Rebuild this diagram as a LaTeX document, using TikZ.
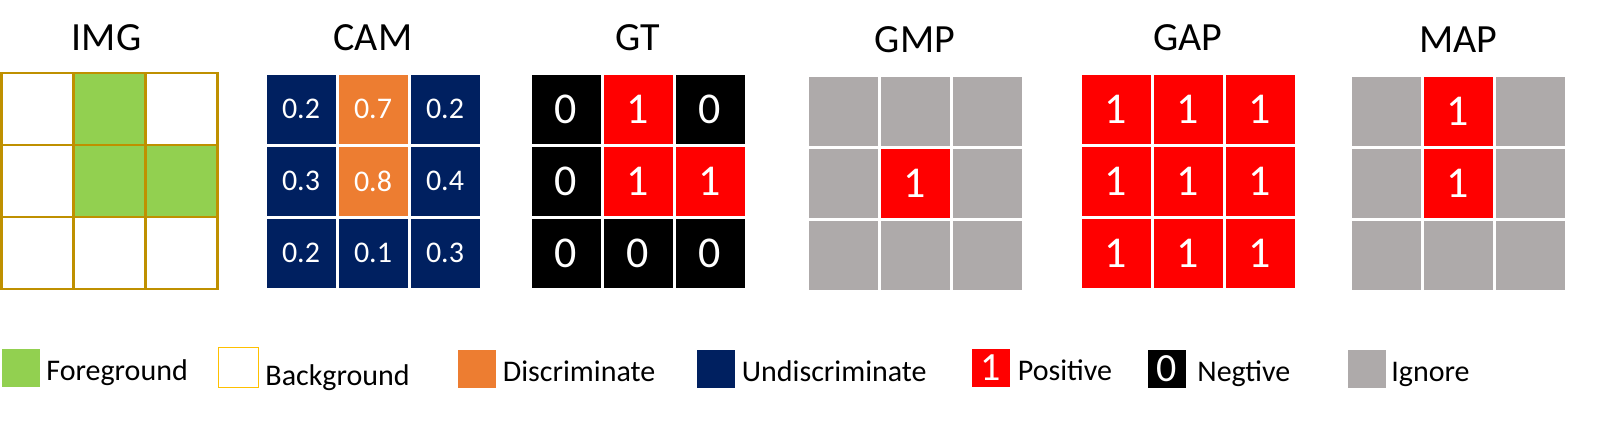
\documentclass[tikz,border=0pt]{standalone}
\usepackage{fontspec}
\setmainfont{Carlito}
\usetikzlibrary{positioning}
\definecolor{fgreen}{HTML}{92D050}
\definecolor{imgline}{HTML}{BF9000}
\definecolor{bgline}{HTML}{FFC000}
\definecolor{discor}{HTML}{ED7D31}
\definecolor{undisc}{HTML}{002060}
\definecolor{posred}{HTML}{FF0000}
\definecolor{igngray}{HTML}{AEAAAA}
\begin{document}
\begin{tikzpicture}
  [x=1pt,y=-1pt,
  every node/.style={font=\fontsize{30}{36}\selectfont},
  title/.style={font=\fontsize{40}{46}\selectfont,anchor=base},
  cell/.style={minimum size=72pt,inner sep=0pt,draw=white,line width=3pt,text=white,font=\fontsize{44}{50}\selectfont},
  camcell/.style={cell,font=\fontsize{30}{36}\selectfont},
  imgcell/.style={minimum size=72pt,inner sep=0pt,draw=imgline,line width=2.5pt},
  key/.style={minimum size=38pt,inner sep=0pt,text=white,font=\fontsize{40}{46}\selectfont},
  keytext/.style={inner sep=0pt,anchor=base west}]
  \useasboundingbox[fill=white] (0,0) rectangle (1611,423);

  % IMG
  \foreach \r/\c/\f in {1/1/white,1/2/fgreen,1/3/white,2/1/white,2/2/fgreen,2/3/fgreen,3/1/white,3/2/white,3/3/white}
    \node[imgcell,fill=\f] (img-\r-\c) at ({1.5+36+72*(\c-1)},{73+36+72*(\r-1)}) {};
  \node[title] (imgT) at ([yshift=21pt,xshift=-3pt]img-1-2.north) {IMG};

  % CAM
  \foreach \r/\c/\v/\f in {1/1/0.2/undisc,1/2/0.7/discor,1/3/0.2/undisc,2/1/0.3/undisc,2/2/0.8/discor,2/3/0.4/undisc,3/1/0.2/undisc,3/2/0.1/undisc,3/3/0.3/undisc}
    \node[camcell,fill=\f] (cam-\r-\c) at ({265+36+72*(\c-1)},{73+36+72*(\r-1)}) {\v};
  \node[title] (camT) at ([yshift=21pt]cam-1-2.north) {CAM};

  % GT
  \foreach \r/\c/\v/\f in {1/1/0/black,1/2/1/posred,1/3/0/black,2/1/0/black,2/2/1/posred,2/3/1/posred,3/1/0/black,3/2/0/black,3/3/0/black}
    \node[cell,fill=\f] (gt-\r-\c) at ({530+36+72*(\c-1)},{73+36+72*(\r-1)}) {\v};
  \node[title] (gtT) at ([yshift=21pt]gt-1-2.north) {GT};

  % GMP
  \foreach \r/\c in {1/1,1/2,1/3,2/1,2/3,3/1,3/2,3/3}
    \node[cell,fill=igngray] (gmp-\r-\c) at ({807+36+72*(\c-1)},{75+36+72*(\r-1)}) {};
  \node[cell,fill=posred] (gmp-2-2) at (807+36+72,75+36+72) {1};
  \node[title] (gmpT) at ([yshift=21pt]gmp-1-2.north) {GMP};

  % GAP
  \foreach \r in {1,2,3}
    \foreach \c in {1,2,3}
      \node[cell,fill=posred] (gap-\r-\c) at ({1080+36+72*(\c-1)},{73+36+72*(\r-1)}) {1};
  \node[title] (gapT) at ([yshift=21pt]gap-1-2.north) {GAP};

  % MAP
  \foreach \r/\c/\v/\f in {1/1//igngray,1/2/1/posred,1/3//igngray,2/1//igngray,2/2/1/posred,2/3//igngray,3/1//igngray,3/2//igngray,3/3//igngray}
    \node[cell,fill=\f] (map-\r-\c) at ({1350+36+72*(\c-1)},{75+36+72*(\r-1)}) {\v};
  \node[title] (mapT) at ([yshift=21pt]map-1-2.north) {MAP};

  % legend
  \node[key,fill=fgreen] (kFg) at (21,368) {};
  \node[keytext] (tFg) at ([xshift=6pt,yshift=-12pt]kFg.east) {Foreground};
  \node[key,draw=bgline,line width=1.5pt,minimum size=40pt] (kBg) at (238.5,367.5) {};
  \node[keytext] (tBg) at ([xshift=6pt,yshift=-18pt]kBg.east) {Background};
  \node[key,fill=discor] (kDisc) at (476.5,369) {};
  \node[keytext] (tDisc) at ([xshift=7pt,yshift=-12pt]kDisc.east) {Discriminate};
  \node[key,fill=undisc] (kUndisc) at (715.5,369) {};
  \node[keytext] (tUndisc) at ([xshift=7pt,yshift=-12pt]kUndisc.east) {Undiscriminate};
  \node[key,fill=posred] (kPos) at (990.5,368) {1};
  \node[keytext] (tPos) at ([xshift=8pt,yshift=-12pt]kPos.east) {Positive};
  \node[key,fill=black] (kNeg) at (1167,369) {0};
  \node[keytext] (tNeg) at ([xshift=11pt,yshift=-12pt]kNeg.east) {Negtive};
  \node[key,fill=igngray] (kIgn) at (1367,369) {};
  \node[keytext] (tIgn) at ([xshift=5pt,yshift=-12pt]kIgn.east) {Ignore};
\end{tikzpicture}
\end{document}
